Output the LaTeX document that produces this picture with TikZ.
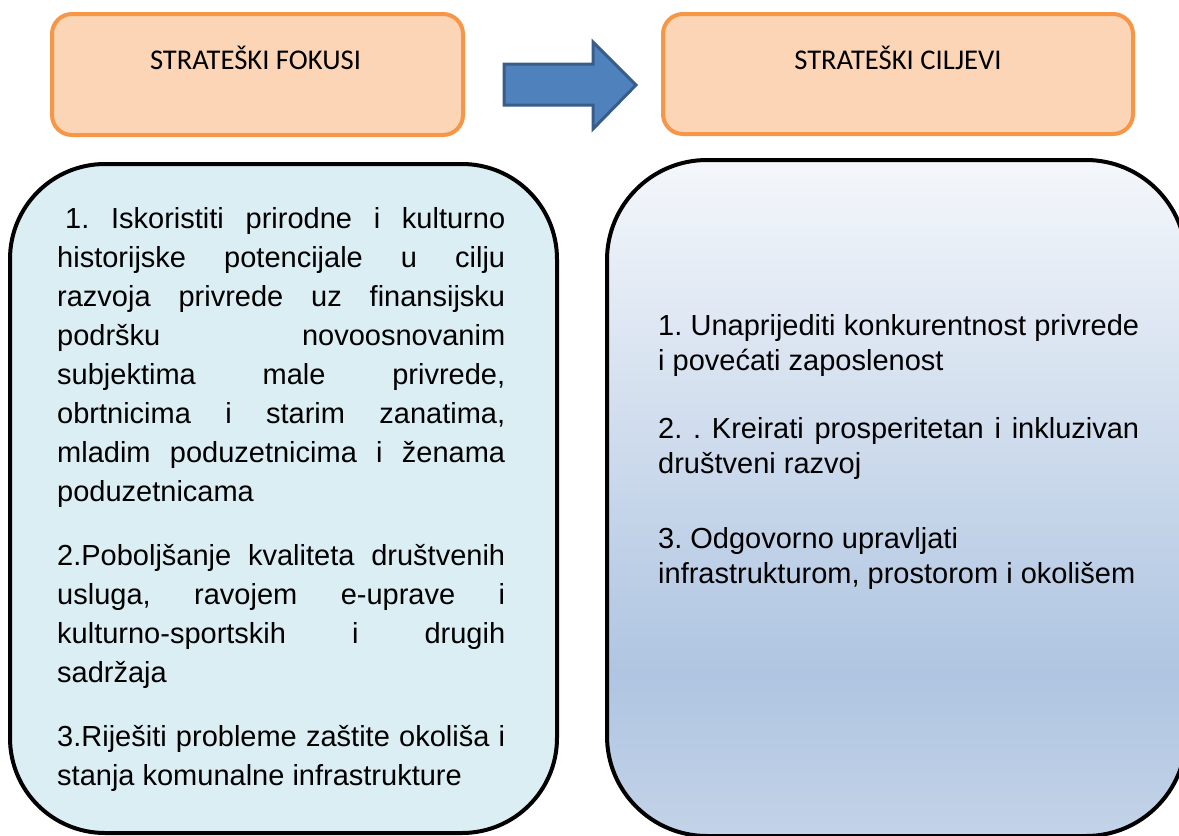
\documentclass[tikz,border=0pt]{standalone}
\usepackage{fontspec}
\setmainfont{Liberation Sans}
\newfontfamily\calib{Carlito}
\definecolor{orangeline}{HTML}{F79646}
\definecolor{orangefill}{HTML}{FBD5B5}
\definecolor{leftfill}{HTML}{DAEEF3}
\definecolor{arrowfill}{HTML}{4F81BD}
\definecolor{arrowline}{HTML}{385D8A}
\definecolor{gtop}{HTML}{F4F7FB}
\definecolor{gdark}{HTML}{AFC5E1}
\definecolor{gbot}{HTML}{C3D3E8}
\pgfdeclareverticalshading{rboxshade}{100bp}{color(0bp)=(gbot); color(25bp)=(gbot); color(37bp)=(gdark); color(75bp)=(gtop); color(100bp)=(gtop)}
\newcommand\myjust[2]{\hbox to #1{#2}}
\newcommand\mynat[1]{\hbox{#1}}
\tikzset{
  titlebox/.style={draw=orangeline, fill=orangefill, line width=4pt, rounded corners=20pt, inner sep=0pt, outer sep=0pt},
  titletext/.style={inner sep=0pt, anchor=base, font=\calib\fontsize{28.6}{34}\selectfont},
  bigbox/.style={draw=black, line width=4pt, inner sep=0pt, outer sep=0pt},
  txt/.style={inner sep=0pt, anchor=base west},
  blockarrow/.style={draw=arrowline, fill=arrowfill, line width=3pt, line join=miter}
}
\begin{document}
\frenchspacing
\begin{tikzpicture}[x=1pt, y=-1pt]
\useasboundingbox (0,0) rectangle (1179,836);
% title boxes
\node[titlebox, minimum width=411pt, minimum height=121pt] (fbox) at (257.5,74.5) {};
\node[titletext] (ftext) at (255.5,69) {STRATEŠKI FOKUSI};
\node[titlebox, minimum width=470pt, minimum height=120pt] (cbox) at (898,74) {};
\node[titletext] (ctext) at (898,69) {STRATEŠKI CILJEVI};
% block arrow
\draw[blockarrow] (504,64) -- (593,64) -- (593,42) -- (636,85) -- (593,129) -- (593,105) -- (504,105) -- cycle;
% lower boxes
\node[bigbox, fill=leftfill, rounded corners=95pt, minimum width=547pt, minimum height=669pt] (lbox) at (283.5,498.5) {};
\node[bigbox, shade, shading=rboxshade, rounded corners=100pt, minimum width=579pt, minimum height=676pt] (rbox) at (896.5,498) {};
% left texts
\node[txt, font=\fontsize{29}{39}\selectfont] (l1) at (57,228) {\vtop{\baselineskip=39pt
  \myjust{448pt}{\kern8pt 1. Iskoristiti prirodne i kulturno}
  \myjust{448pt}{historijske potencijale u cilju}
  \myjust{448pt}{razvoja privrede uz finansijsku}
  \myjust{448pt}{podršku novoosnovanim}
  \myjust{448pt}{subjektima male privrede,}
  \myjust{448pt}{obrtnicima i starim zanatima,}
  \myjust{448pt}{mladim poduzetnicima i ženama}
  \mynat{poduzetnicama}}};
\node[txt, font=\fontsize{29}{39}\selectfont] (l2) at (57,565) {\vtop{\baselineskip=39pt
  \myjust{448pt}{2.Poboljšanje kvaliteta društvenih}
  \myjust{448pt}{usluga, ravojem e-uprave i}
  \myjust{448pt}{kulturno-sportskih i drugih}
  \mynat{sadržaja}}};
\node[txt, font=\fontsize{29}{39}\selectfont] (l3) at (57,746) {\vtop{\baselineskip=39pt
  \myjust{448pt}{3.Riješiti probleme zaštite okoliša i}
  \mynat{stanja komunalne infrastrukture}}};
% right texts
\node[txt, font=\fontsize{29}{35.5}\selectfont] (r1) at (658,335) {\vtop{\baselineskip=35.5pt
  \myjust{481pt}{1. Unaprijediti konkurentnost privrede}
  \mynat{i povećati zaposlenost}}};
\node[txt, font=\fontsize{29}{35.5}\selectfont] (r2) at (658,438) {\vtop{\baselineskip=35.5pt
  \myjust{481pt}{2. . Kreirati prosperitetan i inkluzivan}
  \mynat{društveni razvoj}}};
\node[txt, font=\fontsize{29}{35.5}\selectfont] (r3) at (658,548) {\vtop{\baselineskip=35.5pt
  \mynat{3. Odgovorno upravljati}
  \mynat{infrastrukturom, prostorom i okolišem}}};
\end{tikzpicture}
\end{document}
